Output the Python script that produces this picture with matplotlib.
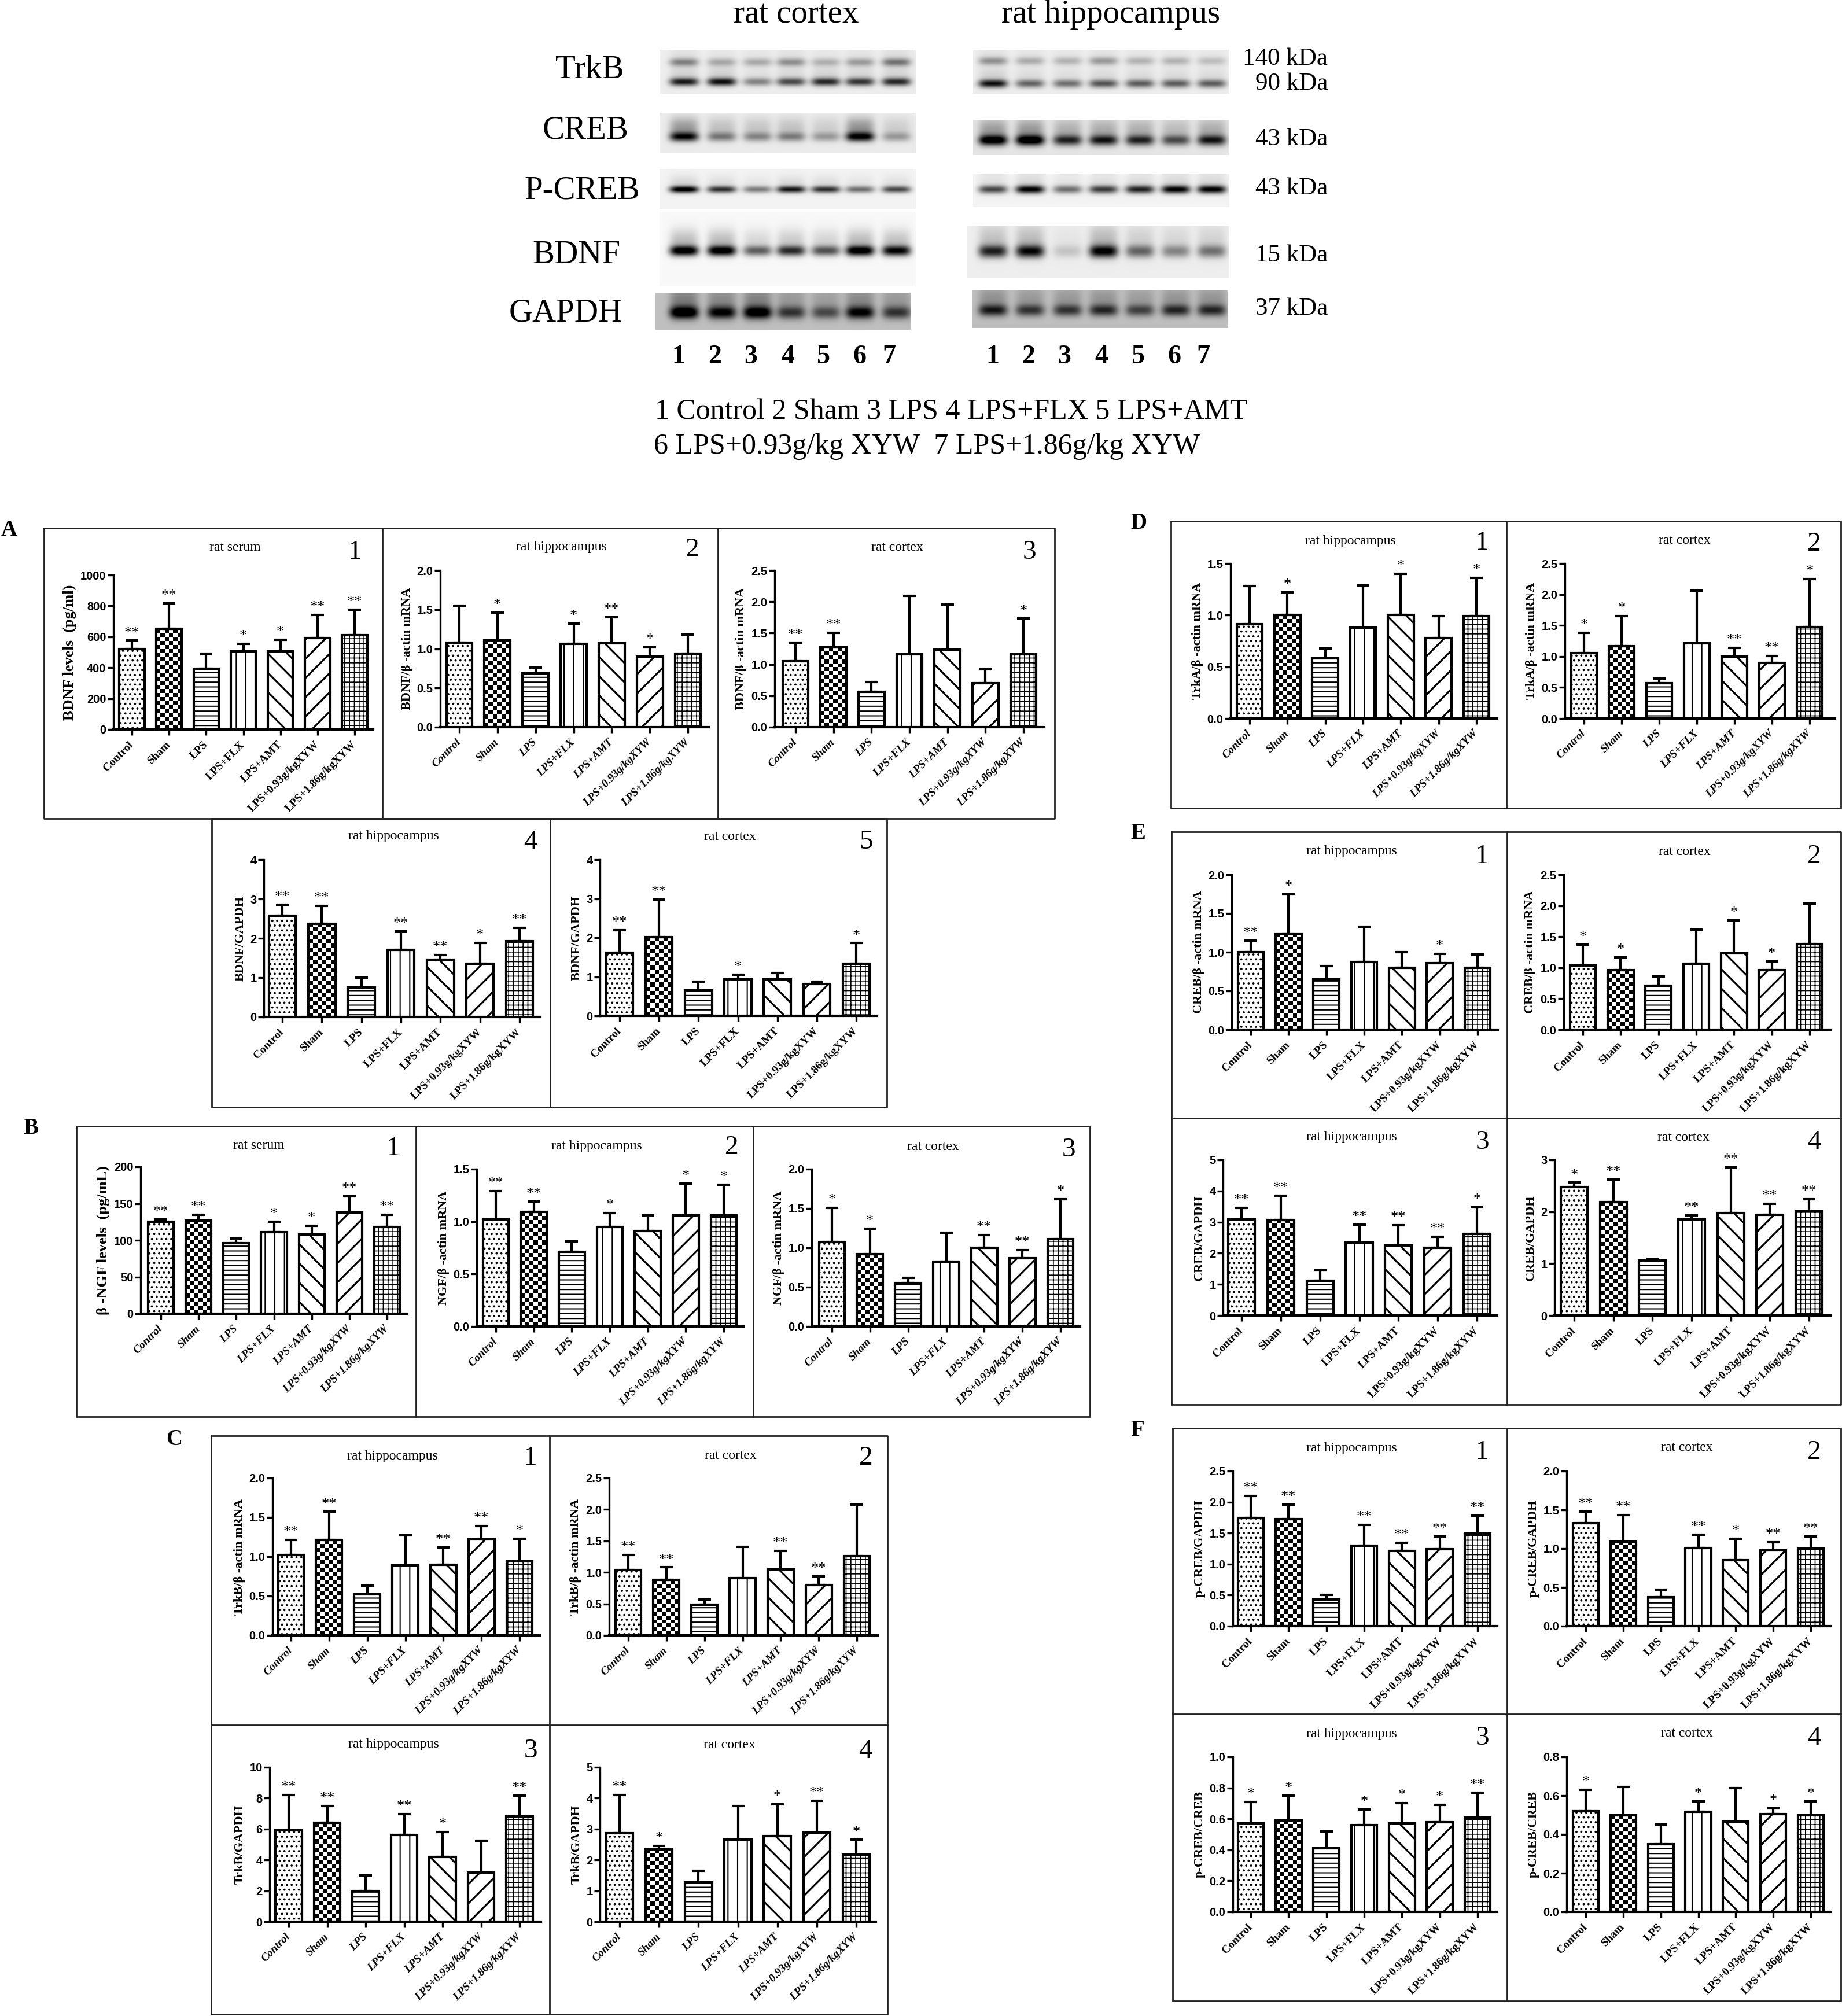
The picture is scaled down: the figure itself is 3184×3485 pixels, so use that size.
"""
Western blots and grouped bar panels (A-F) for the LPS / XYW experiment
"""

import numpy as np
import matplotlib
matplotlib.use('Agg')
import matplotlib.pyplot as plt

W, H = 3184, 3485
DPI = 100
SERIF = 'Liberation Serif'
SANS = 'Liberation Sans'

GROUPS = ['Control', 'Sham', 'LPS', 'LPS+FLX', 'LPS+AMT', 'LPS+0.93g/kgXYW', 'LPS+1.86g/kgXYW']

# --- bar values: means, top of the error bar, significance stars ---
a1_mean = [520, 650, 395, 505, 505, 590, 610]
a1_top = [575, 815, 490, 555, 582, 740, 775]
a1_star = ['**', '**', '', '*', '*', '**', '**']
a2_mean = [1.08, 1.11, 0.69, 1.06, 1.07, 0.90, 0.94]
a2_top = [1.55, 1.46, 0.76, 1.32, 1.40, 1.02, 1.18]
a2_star = ['', '*', '', '*', '**', '*', '']
a3_mean = [1.05, 1.27, 0.56, 1.16, 1.24, 0.70, 1.16]
a3_top = [1.35, 1.50, 0.72, 2.09, 1.96, 0.92, 1.73]
a3_star = ['**', '**', '', '', '', '', '*']
a4_mean = [2.57, 2.37, 0.75, 1.70, 1.46, 1.36, 1.92]
a4_top = [2.86, 2.82, 1.00, 2.17, 1.58, 1.88, 2.26]
a4_star = ['**', '**', '', '**', '**', '*', '**']
a5_mean = [1.62, 2.02, 0.65, 0.93, 0.94, 0.81, 1.33]
a5_top = [2.19, 2.98, 0.88, 1.05, 1.10, 0.88, 1.86]
a5_star = ['**', '**', '', '*', '', '', '*']

b1_mean = [125, 127, 96, 111, 108, 138, 118]
b1_top = [128, 135, 102, 125, 120, 160, 135]
b1_star = ['**', '**', '', '*', '*', '**', '**']
b2_mean = [1.02, 1.09, 0.71, 0.95, 0.91, 1.06, 1.06]
b2_top = [1.29, 1.19, 0.81, 1.08, 1.06, 1.36, 1.35]
b2_star = ['**', '**', '', '*', '', '*', '*']
b3_mean = [1.07, 0.92, 0.55, 0.82, 1.00, 0.87, 1.11]
b3_top = [1.51, 1.24, 0.62, 1.19, 1.16, 0.97, 1.62]
b3_star = ['*', '*', '', '', '**', '**', '*']

c1_mean = [1.02, 1.21, 0.52, 0.89, 0.90, 1.22, 0.94]
c1_top = [1.21, 1.57, 0.63, 1.27, 1.12, 1.39, 1.23]
c1_star = ['**', '**', '', '', '**', '**', '*']
c2_mean = [1.04, 0.88, 0.49, 0.91, 1.05, 0.80, 1.26]
c2_top = [1.28, 1.08, 0.57, 1.41, 1.34, 0.94, 2.08]
c2_star = ['**', '**', '', '', '**', '**', '']
c3_mean = [5.9, 6.4, 2.0, 5.6, 4.2, 3.2, 6.8]
c3_top = [8.2, 7.5, 3.0, 6.95, 5.8, 5.25, 8.15]
c3_star = ['**', '**', '', '**', '*', '', '**']
c4_mean = [2.87, 2.35, 1.27, 2.65, 2.78, 2.88, 2.18]
c4_top = [4.10, 2.45, 1.65, 3.75, 3.80, 3.92, 2.65]
c4_star = ['**', '*', '', '', '*', '**', '*']

d1_mean = [0.91, 1.00, 0.58, 0.88, 1.00, 0.78, 0.99]
d1_top = [1.28, 1.22, 0.68, 1.29, 1.40, 0.99, 1.36]
d1_star = ['', '*', '', '', '*', '', '*']
d2_mean = [1.05, 1.17, 0.57, 1.21, 1.00, 0.90, 1.47]
d2_top = [1.38, 1.65, 0.64, 2.06, 1.14, 1.01, 2.25]
d2_star = ['*', '*', '', '', '**', '**', '*']

e1_mean = [1.00, 1.24, 0.65, 0.87, 0.80, 0.86, 0.80]
e1_top = [1.15, 1.75, 0.82, 1.33, 1.00, 0.98, 0.97]
e1_star = ['**', '*', '', '', '', '*', '']
e2_mean = [1.04, 0.96, 0.71, 1.06, 1.23, 0.96, 1.38]
e2_top = [1.37, 1.17, 0.86, 1.61, 1.76, 1.10, 2.03]
e2_star = ['*', '*', '', '', '*', '*', '']
e3_mean = [3.08, 3.07, 1.12, 2.34, 2.24, 2.17, 2.62]
e3_top = [3.45, 3.85, 1.45, 2.92, 2.90, 2.53, 3.47]
e3_star = ['**', '**', '', '**', '**', '**', '*']
e4_mean = [2.48, 2.19, 1.06, 1.85, 1.97, 1.94, 2.01]
e4_top = [2.56, 2.62, 1.08, 1.93, 2.86, 2.15, 2.24]
e4_star = ['*', '**', '', '**', '**', '**', '**']

f1_mean = [1.74, 1.73, 0.43, 1.30, 1.21, 1.24, 1.49]
f1_top = [2.10, 1.96, 0.50, 1.63, 1.34, 1.45, 1.78]
f1_star = ['**', '**', '', '**', '**', '**', '**']
f2_mean = [1.33, 1.09, 0.37, 1.01, 0.85, 0.98, 1.00]
f2_top = [1.48, 1.43, 0.47, 1.18, 1.13, 1.08, 1.16]
f2_star = ['**', '**', '', '**', '*', '**', '**']
f3_mean = [0.57, 0.59, 0.41, 0.56, 0.57, 0.58, 0.61]
f3_top = [0.71, 0.75, 0.52, 0.66, 0.70, 0.69, 0.77]
f3_star = ['*', '*', '', '*', '*', '*', '**']
f4_mean = [0.52, 0.50, 0.35, 0.515, 0.465, 0.505, 0.50]
f4_top = [0.63, 0.645, 0.45, 0.57, 0.64, 0.535, 0.57]
f4_star = ['*', '', '', '*', '', '*', '*']

trkb_ctx_upper = [.40, .25, .25, .35, .22, .30, .45]
trkb_ctx_lower = [.80, .85, .40, .62, .75, .70, .75]
trkb_hip_upper = [.35, .25, .22, .32, .22, .22, .18]
trkb_hip_lower = [.85, .52, .48, .58, .55, .55, .55]
creb_ctx = [.80, .40, .35, .38, .28, .85, .28]
creb_hip = [.95, 1.0, .70, .75, .70, .55, .75]
pcreb_ctx = [1.0, .75, .45, .85, .75, .50, .65]
pcreb_hip = [.65, .95, .50, .70, .80, .95, .95]
bdnf_ctx = [1.0, 1.0, .55, .75, .60, 1.0, .90]
bdnf_hip = [.75, .85, .15, .90, .50, .38, .45]
gapdh_ctx = [.85, .70, .80, .50, .42, .70, .50]
gapdh_hip = [.60, .50, .50, .55, .45, .55, .55]

LANES_CTX = [1182, 1247, 1309, 1367, 1427, 1486, 1549]
LANES_HIP = [1716, 1780, 1845, 1907, 1970, 2032, 2094]

# x0, x1, y0, y1, background, band half height, smear, lanes, [(band y, strengths)]
BLOTS = [
    (1140, 1583, 86, 162, .07, 7, .12, LANES_CTX, [(107, trkb_ctx_upper), (141, trkb_ctx_lower)]),
    (1682, 2125, 86, 162, .07, 7, .12, LANES_HIP, [(105, trkb_hip_upper), (144, trkb_hip_lower)]),
    (1140, 1583, 195, 264, .08, 8, .40, LANES_CTX, [(236, creb_ctx)]),
    (1682, 2125, 207, 268, .10, 9, .30, LANES_HIP, [(242, creb_hip)]),
    (1140, 1583, 292, 361, .05, 6, .10, LANES_CTX, [(327, pcreb_ctx)]),
    (1682, 2125, 301, 358, .05, 7, .10, LANES_HIP, [(327, pcreb_hip)]),
    (1140, 1583, 366, 494, .03, 9, .22, LANES_CTX, [(433, bdnf_ctx)]),
    (1672, 2125, 391, 480, .07, 11, .22, LANES_HIP, [(434, bdnf_hip)]),
    (1132, 1575, 506, 570, .25, 11, .30, LANES_CTX, [(540, gapdh_ctx)]),
    (1680, 2123, 502, 567, .25, 10, .30, LANES_HIP, [(536, gapdh_hip)]),
]

PATTERNS = ['..', 'checker', '--', '|', '\\', '/', '++']
HATCH_WIDTHS = [1.5, 1.5, 1.5, 1.5, 2.3, 2.3, 1.2]

BA = 'β'
# means, tops, stars, ymax, step, ylabel, title, number, italic labels,
# spine, end, top, y0, first tick, last tick, title x, title y, number x, number y
PANELS = [
    (a1_mean, a1_top, a1_star, 1000, 200, 'BDNF levels  (pg/ml)', 'rat serum', '1', False,
     196, 645, 994, 1261, 228, 613, 406, 947, 614, 955),
    (a2_mean, a2_top, a2_star, 2.0, 0.5, f'BDNF/{BA} -actin mRNA', 'rat hippocampus', '2', True,
     761, 1225, 986, 1257, 794, 1189, 970, 946, 1197, 951),
    (a3_mean, a3_top, a3_star, 2.5, 0.5, f'BDNF/{BA} -actin mRNA', 'rat cortex', '3', True,
     1339, 1805, 986, 1257, 1375, 1769, 1551, 946, 1779, 955),
    (a4_mean, a4_top, a4_star, 4, 1, 'BDNF/GAPDH', 'rat hippocampus', '4', False,
     456, 934, 1486, 1758, 488, 898, 680, 1446, 917, 1457),
    (a5_mean, a5_top, a5_star, 4, 1, 'BDNF/GAPDH', 'rat cortex', '5', False,
     1037, 1516, 1486, 1756, 1071, 1480, 1262, 1446, 1497, 1456),
    (b1_mean, b1_top, b1_star, 200, 50, f'{BA} -NGF levels  (pg/mL)', 'rat serum', '1', True,
     243, 704, 2017, 2271, 278, 669, 447, 1980, 680, 1986),
    (b2_mean, b2_top, b2_star, 1.5, 0.5, f'NGF/{BA} -actin mRNA', 'rat hippocampus', '2', True,
     824, 1285, 2021, 2293, 857, 1251, 1031, 1982, 1265, 1984),
    (b3_mean, b3_top, b3_star, 2.0, 0.5, f'NGF/{BA} -actin mRNA', 'rat cortex', '3', True,
     1403, 1867, 2021, 2293, 1438, 1833, 1613, 1982, 1847, 1988),
    (c1_mean, c1_top, c1_star, 2.0, 0.5, f'TrkB/{BA} -actin mRNA', 'rat hippocampus', '1', True,
     471, 933, 2555, 2827, 503, 898, 678, 2517, 917, 2521),
    (c2_mean, c2_top, c2_star, 2.5, 0.5, f'TrkB/{BA} -actin mRNA', 'rat cortex', '2', True,
     1053, 1517, 2555, 2827, 1086, 1481, 1263, 2517, 1497, 2521),
    (c3_mean, c3_top, c3_star, 10, 2, 'TrkB/GAPDH', 'rat hippocampus', '3', True,
     466, 935, 3055, 3322, 499, 898, 680, 3016, 917, 3027),
    (c4_mean, c4_top, c4_star, 5, 1, 'TrkB/GAPDH', 'rat cortex', '4', True,
     1037, 1514, 3055, 3322, 1071, 1480, 1261, 3016, 1496, 3028),
    (d1_mean, d1_top, d1_star, 1.5, 0.5, f'TrkA/{BA} -actin mRNA', 'rat hippocampus', '1', True,
     2127, 2588, 974, 1242, 2160, 2552, 2334, 935, 2562, 939),
    (d2_mean, d2_top, d2_star, 2.5, 0.5, f'TrkA/{BA} -actin mRNA', 'rat cortex', '2', True,
     2705, 3172, 974, 1242, 2738, 3128, 2912, 935, 3136, 941),
    (e1_mean, e1_top, e1_star, 2.0, 0.5, f'CREB/{BA} -actin mRNA', 'rat hippocampus', '1', False,
     2129, 2589, 1512, 1780, 2162, 2554, 2336, 1472, 2562, 1481),
    (e2_mean, e2_top, e2_star, 2.5, 0.5, f'CREB/{BA} -actin mRNA', 'rat cortex', '2', False,
     2703, 3165, 1512, 1780, 2736, 3128, 2912, 1472, 3136, 1481),
    (e3_mean, e3_top, e3_star, 5, 1, 'CREB/GAPDH', 'rat hippocampus', '3', False,
     2114, 2588, 2005, 2274, 2146, 2553, 2336, 1966, 2562, 1975),
    (e4_mean, e4_top, e4_star, 3, 1, 'CREB/GAPDH', 'rat cortex', '4', False,
     2687, 3164, 2005, 2274, 2721, 3127, 2910, 1966, 3136, 1975),
    (f1_mean, f1_top, f1_star, 2.5, 0.5, 'p-CREB/GAPDH', 'rat hippocampus', '1', False,
     2131, 2588, 2543, 2811, 2162, 2554, 2336, 2503, 2562, 2511),
    (f2_mean, f2_top, f2_star, 2.0, 0.5, 'p-CREB/GAPDH', 'rat cortex', '2', False,
     2708, 3165, 2543, 2811, 2741, 3130, 2916, 2503, 3136, 2511),
    (f3_mean, f3_top, f3_star, 1.0, 0.2, 'p-CREB/CREB', 'rat hippocampus', '3', False,
     2131, 2588, 3037, 3305, 2162, 2554, 2336, 2997, 2562, 3005),
    (f4_mean, f4_top, f4_star, 0.8, 0.2, 'p-CREB/CREB', 'rat cortex', '4', False,
     2708, 3165, 3037, 3305, 2741, 3130, 2916, 2996, 3136, 3005),
]

# boxes round the panels: x0, x1, y0, y1, inner verticals, inner horizontals
FRAMES = [
    (76, 1823, 913, 1415, [661, 1241], []),
    (366, 1533, 1415, 1914, [951], []),
    (132, 1884, 1947, 2449, [719, 1302], []),
    (365, 1534, 2482, 3482, [950], [2982]),
    (2024, 3182, 901, 1397, [2604], []),
    (2025, 3182, 1438, 2428, [2605], [1933]),
    (2027, 3182, 2469, 3459, [2605], [2963]),
]

LETTERS = [('A', 2, 917), ('B', 40, 1951), ('C', 287, 2488),
           ('D', 1954, 904), ('E', 1954, 1441), ('F', 1954, 2472)]


def draw_blot(ax, x0, x1, y0, y1, bg, half, smear, lanes, bands):
    """Draw one blot strip as a grey image on the pixel axes"""
    X, Y = np.meshgrid(np.arange(x0, x1), np.arange(y0, y1))
    img = np.full(X.shape, bg, dtype=float)
    for band_y, strengths in bands:
        for lane, s in zip(lanes, strengths):
            across = np.exp(-((X - lane) / 25.0) ** 4)
            img += s * across * np.exp(-((Y - band_y) / float(half)) ** 2)
            img += smear * s * across * np.exp(-((Y - band_y + 2 * half) / (2.2 * half)) ** 2)
    ax.imshow(np.clip(img, 0, 1), cmap='gray_r', vmin=0, vmax=1, aspect='auto',
              extent=(x0, x1, y1, y0), interpolation='bilinear', zorder=1)


def draw_frames(ax):
    for x0, x1, y0, y1, verticals, horizontals in FRAMES:
        ax.plot([x0, x1, x1, x0, x0], [y0, y0, y1, y1, y0], color='#222222', lw=2, zorder=2)
        for x in verticals:
            ax.plot([x, x], [y0, y1], color='#222222', lw=2, zorder=2)
        for y in horizontals:
            ax.plot([x0, x1], [y, y], color='#222222', lw=2, zorder=2)


def draw_panel(fig, bg_ax, panel):
    means, tops, stars, ymax, step, ylabel, title, number, italic, \
        spine, end, top, y0, first, last, tx, ty, nx, ny = panel

    ax = fig.add_axes([spine / W, 1 - y0 / H, (end - spine) / W, (y0 - top) / H])
    ax.patch.set_alpha(0)

    pitch = (last - first) / 6.0
    x = np.arange(len(GROUPS))
    width = 0.68
    errs = np.array(tops) - np.array(means)

    for i, (m, pat, hw) in enumerate(zip(means, PATTERNS, HATCH_WIDTHS)):
        if pat == 'checker':
            # matplotlib has no checker hatch, so fill the bar with a small image
            px_h = m / ymax * (y0 - top)
            rows = max(int(round(px_h / 7.0)), 1)
            cols = int(round(width * pitch / 7.5))
            cells = np.indices((rows, cols)).sum(axis=0) % 2
            ax.imshow(cells, cmap='gray', aspect='auto', interpolation='nearest',
                      extent=(i - width / 2, i + width / 2, 0, m), zorder=2)
            ax.bar(i, m, width=width, facecolor='none', edgecolor='black', linewidth=3, zorder=3)
        else:
            with plt.rc_context({'hatch.linewidth': hw}):
                ax.bar(i, m, width=width, facecolor='white', edgecolor='black', linewidth=3,
                       hatch=pat, zorder=3)

    ax.errorbar(x, means, yerr=[np.zeros(len(errs)), errs], fmt='none', ecolor='black',
                elinewidth=3, capsize=8, capthick=3, zorder=2.5)

    for i, s in enumerate(stars):
        if s:
            ax.annotate(s, (i, tops[i]), xytext=(0, 5), textcoords='offset points',
                        ha='center', va='baseline', fontsize=19, family=SERIF)

    ax.set_xlim((spine - first) / pitch, (end - first) / pitch)
    ax.set_ylim(0, ymax)

    ticks = np.arange(0, ymax + step / 2, step)
    ax.set_yticks(ticks)
    if step < 1:
        ax.set_yticklabels([f'{t:.1f}' for t in ticks])
    else:
        ax.set_yticklabels([f'{t:.0f}' for t in ticks])
    ax.set_xticks(x)
    ax.set_xticklabels(GROUPS, rotation=45, ha='right', va='center', rotation_mode='anchor',
                       family=SERIF, fontweight='bold', fontsize=14,
                       fontstyle='italic' if italic else 'normal')
    for lab in ax.get_yticklabels():
        lab.set_family(SANS)
        lab.set_fontweight('bold')
        lab.set_fontsize(14.5)

    ax.tick_params(axis='x', length=7, width=2.4, pad=10)
    ax.tick_params(axis='y', length=7, width=2.4, pad=2)
    ax.spines['top'].set_visible(False)
    ax.spines['right'].set_visible(False)
    ax.spines['left'].set_linewidth(2.4)
    ax.spines['bottom'].set_linewidth(3)
    size = 19 if 'levels' in ylabel else 16
    ax.set_ylabel(ylabel, family=SERIF, fontweight='bold', fontsize=size, labelpad=5)

    bg_ax.text(tx, ty, title, family=SERIF, fontsize=17, ha='center', va='center')
    bg_ax.text(nx, ny, number, family=SERIF, fontsize=34, ha='center', va='center')


def main():
    plt.rcParams['hatch.linewidth'] = 1.5

    fig = plt.figure(figsize=(W / DPI, H / DPI), dpi=DPI, facecolor='white')
    bg = fig.add_axes([0, 0, 1, 1])
    bg.axis('off')

    for blot in BLOTS:
        draw_blot(bg, *blot)
    draw_frames(bg)
    bg.set_xlim(0, W)
    bg.set_ylim(H, 0)

    # blot captions
    for txt, x, y in [('rat cortex', 1376, 25), ('rat hippocampus', 1920, 25)]:
        bg.text(x, y, txt, family=SERIF, fontsize=41, ha='center', va='center')
    for txt, x, y in [('TrkB', 1078, 121), ('CREB', 1086, 225), ('P-CREB', 1106, 330),
                      ('BDNF', 1072, 441), ('GAPDH', 1076, 542)]:
        bg.text(x, y, txt, family=SERIF, fontsize=41, ha='right', va='center')
    for txt, y in [('140 kDa', 102), ('90 kDa', 145), ('43 kDa', 241), ('43 kDa', 326),
                   ('15 kDa', 442), ('37 kDa', 534)]:
        bg.text(2295, y, txt, family=SERIF, fontsize=31, ha='right', va='center')
    for lane_xs in ([1173, 1236, 1298, 1362, 1424, 1486, 1537],
                    [1716, 1778, 1840, 1904, 1967, 2030, 2080]):
        for i, x in enumerate(lane_xs):
            bg.text(x, 617, str(i + 1), family=SERIF, fontweight='bold', fontsize=33,
                    ha='center', va='center')
    bg.text(1132, 712, '1 Control 2 Sham 3 LPS 4 LPS+FLX 5 LPS+AMT',
            family=SERIF, fontsize=36, ha='left', va='center')
    bg.text(1130, 772, '6 LPS+0.93g/kg XYW  7 LPS+1.86g/kg XYW',
            family=SERIF, fontsize=36, ha='left', va='center')

    for letter, x, y in LETTERS:
        bg.text(x, y, letter, family=SERIF, fontweight='bold', fontsize=28, ha='left', va='center')

    for panel in PANELS:
        draw_panel(fig, bg, panel)

    fig.savefig('out.png', dpi=DPI, facecolor='white')


if __name__ == "__main__":
    main()
